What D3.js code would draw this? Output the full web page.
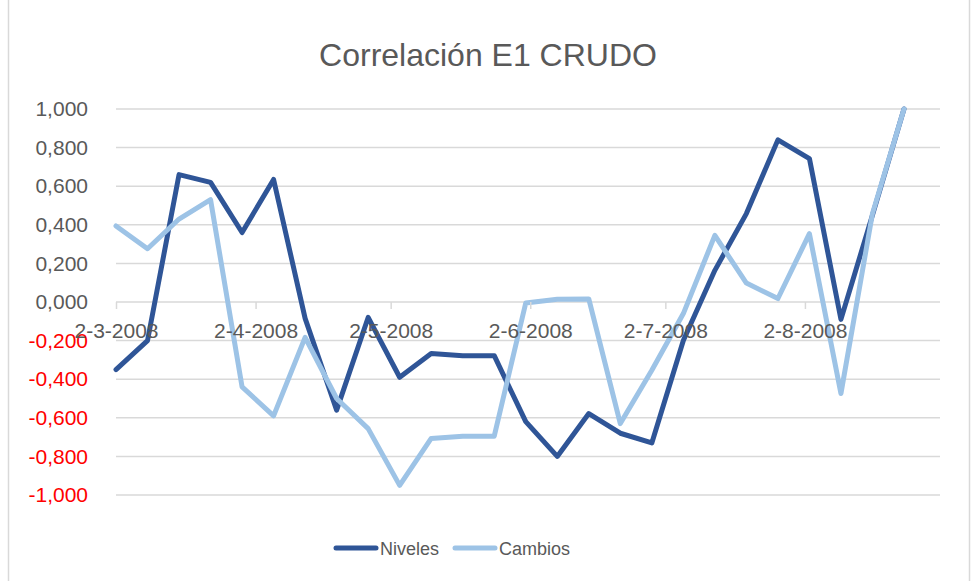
<!DOCTYPE html>
<html>
<head>
<meta charset="utf-8">
<script src="https://cdn.jsdelivr.net/npm/d3@7"></script>
<style>
  body { margin: 0; background: #fff; }
  svg { display: block; font-family: "Liberation Sans", Arial, sans-serif; }
</style>
</head>
<body>
<div class="canvas"></div>
<script>
var W = 974, H = 581;

// weekly dates (d-m-yyyy)
var fechas = ["2-3-2008", "9-3-2008", "16-3-2008", "23-3-2008", "30-3-2008",
	"6-4-2008", "13-4-2008", "20-4-2008", "27-4-2008",
	"4-5-2008", "11-5-2008", "18-5-2008", "25-5-2008",
	"1-6-2008", "8-6-2008", "15-6-2008", "22-6-2008", "29-6-2008",
	"6-7-2008", "13-7-2008", "20-7-2008", "27-7-2008",
	"3-8-2008", "10-8-2008", "17-8-2008", "24-8-2008"];

var niveles = [-0.35, -0.20, 0.66, 0.62, 0.36, 0.635,
	-0.085, -0.56, -0.08, -0.39, -0.267, -0.278, -0.278,
	-0.62, -0.80, -0.578, -0.68, -0.73,
	-0.20, 0.164, 0.458, 0.84, 0.743, -0.09, 0.45, 1.0];

var cambios = [0.394, 0.276, 0.43, 0.53, -0.44, -0.59,
	-0.183, -0.50, -0.656, -0.95, -0.707, -0.695, -0.695,
	-0.005, 0.014, 0.016, -0.63, -0.354,
	-0.06, 0.345, 0.098, 0.018, 0.354, -0.474, 0.458, 1.0];

var x_ticks = ["2-3-2008", "2-4-2008", "2-5-2008", "2-6-2008", "2-7-2008", "2-8-2008"];
var y_ticks = [1.0, 0.8, 0.6, 0.4, 0.2, 0.0, -0.2, -0.4, -0.6, -0.8, -1.0];

var series = [
	{name: "Niveles", values: niveles, col: "#2f5597"},
	{name: "Cambios", values: cambios, col: "#9dc3e6"}
];

var parse = d3.timeParse("%d-%m-%Y");
var fmt = function(v) {
	return d3.format(".3f")(v).replace(".", ",").replace("\u2212", "-");
};

var svg = d3.select("div.canvas").append("svg").attr("width", W).attr("height", H);

// chart frame
svg.append("rect")
	.attr("x", 8.5).attr("y", -2).attr("width", 961).attr("height", H + 4)
	.attr("fill", "none").attr("stroke", "#d9d9d9").attr("stroke-width", 1.5);

var x = d3.scaleTime()
	.domain([parse("2-3-2008"), parse("1-9-2008")])
	.range([116, 940]);
var y = d3.scaleLinear().domain([-1, 1]).range([495, 109]);

// title
svg.append("text")
	.attr("x", 488).attr("y", 66)
	.attr("text-anchor", "middle")
	.attr("fill", "#595959")
	.style("font-size", "32px")
	.text("Correlación E1 CRUDO");

// gridlines
svg.append("g").selectAll("line").data(y_ticks).enter().append("line")
	.attr("x1", 116).attr("x2", 940)
	.attr("y1", function(d) { return y(d); })
	.attr("y2", function(d) { return y(d); })
	.attr("stroke", "#d9d9d9").attr("stroke-width", 1.5);

// y axis labels
var yAxis = svg.append("g")
	.attr("transform", "translate(88,0)")
	.call(d3.axisLeft(y).tickValues(y_ticks).tickFormat(fmt).tickSize(0).tickPadding(0));
yAxis.select(".domain").remove();
yAxis.selectAll("text")
	.style("font-size", "21px")
	.style("font-family", "Liberation Sans, Arial, sans-serif")
	.attr("fill", function(d) { return d < 0 ? "#ff0000" : "#595959"; });

// x axis on zero line
var xAxis = svg.append("g")
	.attr("transform", "translate(0," + y(0) + ")")
	.call(d3.axisBottom(x)
		.tickValues(x_ticks.map(parse))
		.tickFormat(d3.timeFormat("%-d-%-m-%Y"))
		.tickSize(7).tickPadding(14));
xAxis.select(".domain").remove();
xAxis.selectAll(".tick line").attr("stroke", "#d9d9d9").attr("stroke-width", 1.5);
xAxis.selectAll("text")
	.style("font-size", "21px")
	.style("font-family", "Liberation Sans, Arial, sans-serif")
	.attr("fill", "#595959");

// lines
var line = d3.line()
	.x(function(d, i) { return x(parse(fechas[i])); })
	.y(function(d) { return y(d); });

series.forEach(function(s) {
	svg.append("path")
		.attr("d", line(s.values))
		.attr("fill", "none")
		.attr("stroke", s.col)
		.attr("stroke-width", 5)
		.attr("stroke-linejoin", "round")
		.attr("stroke-linecap", "round");
});

// x labels sit above the lines, as in the original
xAxis.raise();

// legend
var legend_x = [334, 453];
series.forEach(function(s, i) {
	var g = svg.append("g").attr("transform", "translate(" + legend_x[i] + ",548)");
	g.append("line")
		.attr("x1", 2).attr("x2", 42)
		.attr("stroke", s.col).attr("stroke-width", 5)
		.attr("stroke-linecap", "round");
	g.append("text")
		.attr("x", 46).attr("y", 6.5)
		.attr("fill", "#595959")
		.style("font-size", "18px")
		.text(s.name);
});
</script>
</body>
</html>
